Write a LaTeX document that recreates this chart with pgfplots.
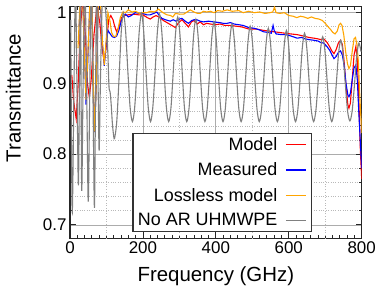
\documentclass[border=0pt]{standalone}
\usepackage{fontspec}
\setmainfont{Liberation Sans}
\usepackage{pgfplots}
\pgfplotsset{compat=1.18}
\definecolor{modelred}{RGB}{255,0,0}
\definecolor{measblue}{RGB}{0,0,255}
\definecolor{lossorange}{RGB}{255,165,0}
\definecolor{noargray}{RGB}{128,128,128}

\begin{document}
\begin{tikzpicture}
\useasboundingbox (-70bp,-56.7bp) rectangle (314bp,238.3bp);
\begin{axis}[
  at={(0,0)}, anchor=south west,
  scale only axis, width=291.7bp, height=231.6bp,
  xmin=0, xmax=800, ymin=0.681, ymax=1.0085,
  xtick={0,200,400,600,800}, ytick={0.7,0.8,0.9,1},
  minor x tick num=9, minor y tick num=4,
  major tick length=6bp, minor tick length=3bp,
  xmajorgrids, ymajorgrids, yminorgrids,
  major grid style={gray!65, line width=0.7bp},
  minor grid style={gray!55, dotted, line width=0.7bp},
  extra x ticks={100,300,500,700}, extra x tick labels={},
  extra x tick style={grid=major, major grid style={gray!55, dotted, line width=0.7bp}, major tick length=0pt},
  axis line style={line width=1.1bp, black!85},
  every tick/.style={black!85, line width=0.8bp},
  /pgf/number format/assume math mode=true,
  tick label style={font=\fontsize{17}{17}\selectfont},
  label style={font=\fontsize{20.5}{20.5}\selectfont},
  xlabel={Frequency (GHz)}, ylabel={Transmittance},
  xlabel style={at={(axis description cs:0.5,-0.187)}, anchor=base},
  ylabel style={at={(axis description cs:-0.169,0.605)}, anchor=base},
  legend style={at={(axis description cs:0.83,0.027)}, anchor=south east,
    draw=black!80, line width=1.2bp, fill=white,
    font=\fontsize{18}{18}\selectfont, row sep=7bp,
    inner xsep=3bp, inner ysep=2bp,
    nodes={inner sep=2bp, text depth=0.15em}},
  legend cell align=right, legend plot pos=right,
  legend image code/.code={\path (0bp,0bp) (28bp,0bp); \draw[#1, line width=1.6bp] (6bp,0bp) -- (26bp,0bp);},
  every axis plot/.append style={line width=1.1bp},
]
% model
\addplot[draw=modelred] table {
5 0.912
10 0.875
17 0.850
22 0.895
28 0.975
35 1.02
42 0.97
48 0.90
53 0.880
58 0.905
66 0.97
74 1.01
82 0.985
88 0.950
94 0.931
100 0.955
106 0.990
112 0.996
118 0.990
123 0.980
128 0.973
134 0.980
141 0.993
150 0.996
160 0.997
174 0.998
188 0.997
200 0.997
212 0.993
220 0.991
228 0.994
236 0.996
247 0.993
256 0.989
266 0.986
276 0.983
289 0.979
298 0.986
307 0.990
316 0.985
325 0.980
333 0.987
340 0.989
349 0.984
357 0.987
366 0.983
375 0.985
385 0.984
398 0.983
412 0.984
425 0.982
440 0.982
455 0.981
470 0.980
490 0.977
510 0.977
531 0.975
545 0.974
560 0.973
575 0.972
590 0.971
605 0.970
623 0.969
640 0.967
655 0.965
669 0.964
680 0.963
687 0.962
696 0.963
705 0.958
712 0.952
718 0.946
724 0.942
730 0.948
736 0.957
742 0.961
747 0.955
752 0.930
757 0.895
762 0.870
765 0.865
769 0.872
774 0.905
779 0.940
784 0.952
788 0.935
792 0.88
796 0.81
800 0.765
};
\addlegendentry{Model}
% measured
\addplot[draw=measblue] table {
25 0.98
30 1.02
35 1.02
40 0.94
44 0.870
49 0.935
55 1.02
60 1.02
64 0.895
67 0.831
72 0.895
78 1.02
84 1.005
89 0.955
94 0.925
99 0.955
104 0.975
109 0.971
116 0.966
122 0.965
128 0.967
134 0.975
140 0.987
146 0.995
152 0.998
160 0.994
168 0.996
179 1.000
190 0.999
200 0.999
210 0.997
220 0.997
230 0.999
238 1.001
245 0.996
252 0.992
262 0.990
275 0.988
283 0.990
291 0.988
300 0.991
307 0.992
316 0.988
325 0.985
334 0.989
340 0.990
348 0.990
357 0.988
366 0.987
380 0.988
394 0.987
410 0.986
420 0.985
431 0.985
440 0.986
450 0.984
463 0.983
475 0.982
490 0.979
505 0.978
518 0.976
531 0.973
545 0.972
552 0.971
557 0.982
560 0.975
565 0.970
580 0.969
590 0.969
600 0.968
612 0.966
623 0.964
635 0.965
645 0.963
655 0.962
669 0.961
680 0.960
687 0.958
696 0.957
705 0.952
712 0.947
718 0.941
724 0.935
730 0.938
736 0.944
742 0.946
747 0.940
752 0.925
757 0.900
762 0.884
765 0.881
769 0.886
774 0.905
779 0.922
784 0.926
788 0.905
792 0.86
796 0.82
800 0.78
};
\addlegendentry{Measured}
% lossless model
\addplot[draw=lossorange] table {
22 0.95
28 1.02
34 1.03
39 0.95
44 0.877
49 0.94
55 1.02
60 1.02
64 0.90
68 0.832
72 0.90
78 1.02
84 1.01
89 0.96
94 0.926
99 0.96
104 1.0
109 0.99
114 0.972
119 0.967
125 0.966
131 0.975
138 0.993
145 1.001
152 1.000
160 1.004
170 1.001
180 1.002
190 0.999
200 1.000
210 1.000
220 1.002
232 1.001
243 1.005
255 1.000
266 0.997
276 0.996
282 0.994
289 0.999
300 0.998
312 0.998
321 1.001
330 1.004
340 1.001
350 0.999
357 0.999
366 1.002
375 1.001
385 1.002
395 1.000
405 1.003
418 1.002
431 1.004
445 1.002
463 1.003
475 1.000
490 1.002
505 1.000
520 1.001
535 0.999
548 1.000
556 1.001
561 1.008
565 1.000
575 0.999
588 1.000
600 0.996
612 0.995
622 0.993
632 0.995
642 0.994
652 0.992
662 0.994
672 0.992
683 0.991
692 0.989
700 0.985
708 0.980
715 0.976
721 0.972
727 0.970
733 0.974
738 0.983
742 0.985
746 0.982
751 0.968
756 0.945
761 0.928
765 0.921
769 0.925
774 0.945
779 0.963
783 0.965
787 0.955
791 0.93
795 0.88
800 0.83
};
\addlegendentry{Lossless model}
% bare UHMWPE slab
\addplot[draw=noargray, smooth] table {
2 0.99
6 0.718
11 0.90
15 1.04
19 0.90
23 0.756
26 0.90
29 1.04
32 0.750
36 0.90
41 1.04
46 0.88
50 0.733
54 0.88
58 1.04
63 0.88
67 0.724
70 0.88
73 1.03
77 0.90
80 0.805
84 0.92
89 1.02
96 1.01
100 0.985
104 0.94
107 0.895
110 0.888
113 0.870
116 0.845
119 0.829
122 0.822
128.1 0.845
134.2 0.904
140.2 0.970
146.3 1.000
152.5 0.974
158.7 0.917
164.9 0.866
171.2 0.846
177.4 0.866
183.6 0.917
189.8 0.973
196.0 0.999
202.2 0.973
208.4 0.917
214.6 0.866
220.9 0.846
227.1 0.866
233.3 0.916
239.5 0.972
245.7 0.998
251.9 0.972
258.1 0.916
264.3 0.866
270.6 0.846
276.8 0.865
283.0 0.915
289.2 0.969
295.4 0.994
301.6 0.969
307.8 0.915
314.0 0.865
320.3 0.846
326.5 0.865
332.7 0.913
338.9 0.967
345.1 0.991
351.3 0.967
357.5 0.913
363.7 0.865
370.0 0.846
376.2 0.864
382.4 0.911
388.6 0.963
394.8 0.987
401.0 0.963
407.2 0.911
413.4 0.864
419.7 0.846
425.9 0.864
432.1 0.910
438.3 0.961
444.5 0.984
450.7 0.961
456.9 0.910
463.1 0.864
469.4 0.846
475.6 0.864
481.8 0.909
488.0 0.958
494.2 0.981
500.4 0.958
506.6 0.909
512.8 0.864
519.1 0.846
525.3 0.863
531.5 0.907
537.7 0.956
543.9 0.978
550.1 0.956
556.3 0.907
562.5 0.863
568.8 0.846
575.0 0.863
581.2 0.906
587.4 0.953
593.6 0.975
599.8 0.953
606.0 0.906
612.2 0.863
618.5 0.846
624.7 0.862
630.9 0.904
637.1 0.950
643.3 0.971
649.5 0.950
655.7 0.904
661.9 0.862
668.2 0.846
674.4 0.862
680.6 0.902
686.8 0.946
693.0 0.966
699.2 0.946
705.4 0.902
711.6 0.862
717.9 0.846
724.1 0.861
730.3 0.899
736.5 0.942
742.7 0.961
748.9 0.942
755.1 0.899
761.3 0.861
767.6 0.847
773.8 0.861
780.0 0.897
786.2 0.938
792.4 0.957
798.0 0.945
};
\addlegendentry{No AR UHMWPE}
\end{axis}
\end{tikzpicture}
\end{document}
